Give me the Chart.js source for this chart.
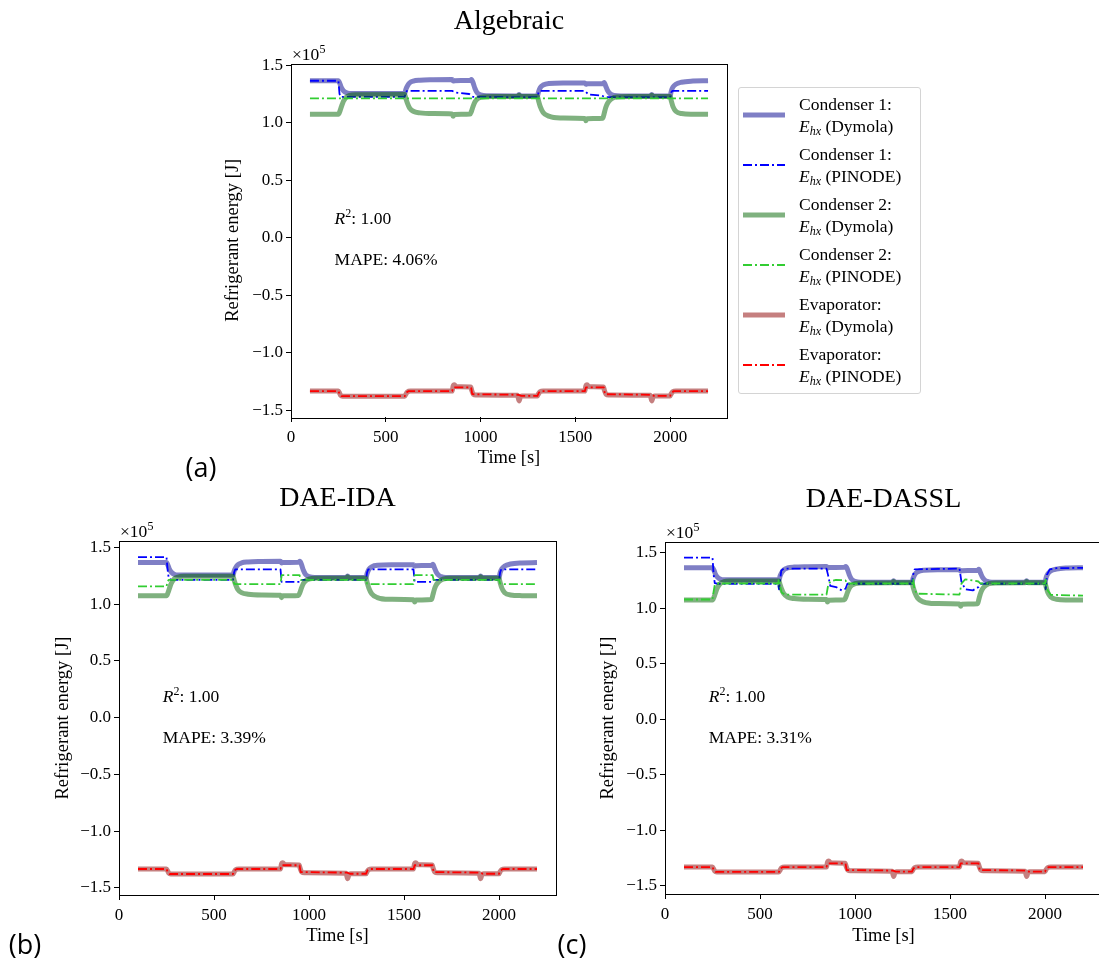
<!DOCTYPE html>
<html>
<head>
<meta charset="utf-8">
<script src="https://cdn.jsdelivr.net/npm/chart.js@4.4.1/dist/chart.umd.min.js"></script>
<style>
  body { margin: 0; width: 1099px; height: 964px; background: #fff; position: relative; overflow: hidden;
         font-family: 'Liberation Serif', serif; color: #000; }
  canvas { position: absolute; }
  .txt { position: absolute; white-space: nowrap; line-height: 1; }
  .mid { transform: translate(-50%, -50%); }
  .left { transform: translateY(-50%); }
  .title { font-size: 28px; }
  .tag { font-family: 'Open Sans', sans-serif; font-size: 27px; }
  .note { font-size: 17.5px; }
  .note sup { font-size: 12px; vertical-align: 7px; }
  .offset { font-size: 17.5px; }
  .offset sup { font-size: 12px; vertical-align: 7px; }
  .legend { position: absolute; left: 738px; top: 87px; width: 181px; height: 305px; border: 1px solid #d4d4d4;
            border-radius: 3px; background: rgba(255,255,255,0.8); }
  .legend .row { position: absolute; left: 0; font-size: 17.5px; line-height: 22px; }
  .legend svg { position: absolute; left: 4px; }
  .legend .lab { position: absolute; left: 60px; white-space: nowrap; }
  .legend sub { font-size: 12px; vertical-align: -3px; }
</style>
</head>
<body>
<canvas id="chartA" width="540" height="460" style="left:200px; top:20px"></canvas>
<canvas id="chartB" width="540" height="460" style="left:28px; top:500px"></canvas>
<canvas id="chartC" width="540" height="460" style="left:574px; top:500px"></canvas>

<script>
const TIME_TICKS = [0, 500, 1000, 1500, 2000];
const ENERGY_TICKS = [-1.5, -1.0, -0.5, 0.0, 0.5, 1.0, 1.5];
const TIME_RANGE = [0, 2300];

// Dymola reference, [time s, energy x1e5 J]
const dymolaCond1 = [[100,1.365],[250,1.365],[258,1.34],[266,1.305],[276,1.28],[290,1.262],[310,1.255],[600,1.255],
  [606,1.29],[614,1.32],[625,1.345],[645,1.362],[680,1.37],[750,1.374],[850,1.376],[856,1.362],[862,1.366],[945,1.368],
  [952,1.376],[960,1.35],[970,1.3],[982,1.26],[1000,1.242],[1030,1.234],[1195,1.233],[1203,1.246],[1212,1.233],[1300,1.233],
  [1306,1.27],[1315,1.305],[1330,1.328],[1360,1.341],[1450,1.345],[1550,1.346],[1556,1.334],[1562,1.338],[1645,1.34],
  [1652,1.35],[1660,1.32],[1670,1.28],[1685,1.25],[1705,1.237],[1740,1.233],[1895,1.233],[1903,1.246],[1912,1.233],
  [2000,1.233],[2006,1.275],[2015,1.31],[2030,1.335],[2060,1.352],[2120,1.362],[2200,1.365]];
const dymolaCond2 = [[100,1.073],[250,1.073],[258,1.1],[266,1.14],[276,1.185],[290,1.22],[310,1.238],[340,1.244],[600,1.245],
  [606,1.21],[614,1.17],[625,1.13],[645,1.1],[680,1.086],[750,1.08],[850,1.077],[855,1.056],[862,1.072],[945,1.076],
  [952,1.1],[960,1.14],[970,1.18],[982,1.205],[1000,1.22],[1030,1.227],[1195,1.228],[1203,1.24],[1212,1.228],[1300,1.228],
  [1306,1.19],[1315,1.14],[1330,1.09],[1360,1.057],[1420,1.042],[1550,1.037],[1556,1.018],[1562,1.035],[1645,1.04],
  [1652,1.08],[1660,1.13],[1670,1.17],[1685,1.2],[1705,1.22],[1740,1.227],[1895,1.228],[1903,1.24],[1912,1.228],
  [2000,1.228],[2006,1.19],[2015,1.14],[2030,1.1],[2060,1.08],[2120,1.074],[2200,1.073]];
const dymolaEvap = [[100,-1.333],[250,-1.333],[256,-1.35],[262,-1.37],[272,-1.377],[600,-1.377],[606,-1.36],[614,-1.34],
  [630,-1.333],[850,-1.333],[855,-1.29],[862,-1.278],[872,-1.295],[948,-1.298],[954,-1.33],[962,-1.36],[975,-1.366],
  [1195,-1.37],[1203,-1.418],[1210,-1.385],[1218,-1.375],[1300,-1.375],[1306,-1.355],[1314,-1.338],[1330,-1.333],
  [1550,-1.333],[1555,-1.29],[1562,-1.278],[1572,-1.295],[1648,-1.298],[1654,-1.33],[1662,-1.36],[1675,-1.366],
  [1895,-1.37],[1903,-1.418],[1910,-1.385],[1918,-1.375],[2000,-1.375],[2006,-1.355],[2014,-1.338],[2030,-1.333],[2200,-1.333]];

// PINODE evaporator prediction (same in every run)
const pinodeEvap = [[100,-1.333],[250,-1.333],[258,-1.365],[266,-1.377],[600,-1.377],[608,-1.345],[620,-1.333],[850,-1.333],
  [856,-1.3],[950,-1.3],[956,-1.36],[1200,-1.365],[1215,-1.375],[1300,-1.375],[1308,-1.345],[1320,-1.333],[1550,-1.333],
  [1556,-1.3],[1650,-1.3],[1656,-1.36],[1900,-1.365],[1915,-1.375],[2000,-1.375],[2008,-1.345],[2020,-1.333],[2200,-1.333]];

// PINODE, algebraic solve
const algCond1 = [[100,1.365],[250,1.365],[256,1.25],[262,1.225],[600,1.225],[606,1.265],[612,1.277],[850,1.277],[870,1.262],
  [940,1.25],[960,1.225],[1300,1.222],[1306,1.265],[1312,1.277],[1550,1.277],[1570,1.245],[1640,1.235],[1660,1.222],
  [2000,1.222],[2006,1.265],[2012,1.277],[2200,1.277]];
const algCond2 = [[100,1.211],[2200,1.211]];

// PINODE, DAE-IDA
const idaCond1 = [[100,1.413],[250,1.413],[256,1.3],[262,1.225],[275,1.213],[600,1.213],[606,1.28],[612,1.306],[850,1.306],
  [856,1.195],[950,1.195],[956,1.213],[1300,1.213],[1306,1.28],[1312,1.306],[1550,1.306],[1556,1.195],[1650,1.195],
  [1656,1.213],[2000,1.213],[2006,1.28],[2012,1.306],[2200,1.306]];
const idaCond2 = [[100,1.155],[250,1.155],[256,1.2],[262,1.213],[600,1.213],[606,1.18],[612,1.175],[850,1.175],[856,1.255],
  [950,1.255],[956,1.213],[1300,1.213],[1306,1.18],[1312,1.175],[1550,1.175],[1556,1.255],[1650,1.255],[1656,1.213],
  [2000,1.213],[2006,1.18],[2012,1.175],[2200,1.175]];

// PINODE, DAE-DASSL
const dasslCond1 = [[100,1.455],[250,1.455],[256,1.3],[262,1.225],[275,1.22],[595,1.22],[600,1.17],[606,1.25],[612,1.34],
  [625,1.356],[850,1.356],[858,1.3],[870,1.2],[900,1.19],[930,1.16],[950,1.175],[960,1.22],[1300,1.22],[1306,1.3],
  [1314,1.35],[1550,1.356],[1560,1.24],[1580,1.17],[1620,1.16],[1650,1.19],[1660,1.22],[2000,1.22],[2004,1.17],
  [2010,1.3],[2025,1.35],[2060,1.36],[2200,1.363]];
const dasslCond2 = [[100,1.078],[250,1.078],[256,1.15],[262,1.21],[275,1.222],[595,1.222],[600,1.26],[606,1.2],[614,1.14],
  [630,1.122],[850,1.122],[858,1.2],[870,1.24],[900,1.255],[950,1.25],[960,1.222],[1300,1.222],[1306,1.26],[1312,1.18],
  [1325,1.13],[1550,1.122],[1560,1.22],[1580,1.26],[1620,1.25],[1650,1.24],[1660,1.222],[2000,1.222],[2004,1.26],
  [2010,1.17],[2030,1.12],[2200,1.113]];

const PANEL_TITLES = ['Algebraic', 'DAE-IDA', 'DAE-DASSL'];
const PANEL_TAGS = ['(a)', '(b)', '(c)'];
const R2_SCORES = ['1.00', '1.00', '1.00'];
const MAPE_SCORES = ['4.06%', '3.39%', '3.31%'];
const ENERGY_RANGES = [[-1.558, 1.515], [-1.562, 1.555], [-1.576, 1.596]];

const SERIES_NAMES = ['Condenser 1:', 'Condenser 1:', 'Condenser 2:', 'Condenser 2:', 'Evaporator:', 'Evaporator:'];
const SERIES_SOURCES = ['Dymola', 'PINODE', 'Dymola', 'PINODE', 'Dymola', 'PINODE'];
const SERIES_COLORS = ['rgba(0,0,139,0.5)', '#0000ff', 'rgba(0,100,0,0.5)', '#32cd32', 'rgba(139,0,0,0.5)', '#ff0000'];
const DASH_DOT = [9, 3, 2, 3];

// canvas geometry: y axis width, x axis height, padding, title paddings
const LAYOUTS = [
  { el: 'chartA', left: 200, top: 20, yw: 91, xh: 63, padTop: 43.5, padRight: 13, yTitlePad: 22.5, xTitlePad: 10.5 },
  { el: 'chartB', left: 28, top: 500, yw: 91, xh: 65, padTop: 41, padRight: 12, yTitlePad: 24.5, xTitlePad: 12.5 },
  { el: 'chartC', left: 574, top: 500, yw: 91, xh: 66, padTop: 42, padRight: 12, yTitlePad: 23.5, xTitlePad: 12.5 },
];

const frameBox = {
  id: 'frameBox',
  afterDraw(chart) {
    const { ctx, chartArea: a } = chart;
    ctx.save();
    ctx.strokeStyle = '#000';
    ctx.lineWidth = 1;
    ctx.strokeRect(Math.round(a.left) + 0.5, Math.round(a.top) + 0.5, Math.round(a.right - a.left), Math.round(a.bottom - a.top));
    ctx.restore();
  }
};

const toPoints = (pairs) => pairs.map(([x, y]) => ({ x, y }));
const fmtEnergy = (v) => (v < 0 ? '\u2212' : '') + Math.abs(v).toFixed(1);

const makeChart = (i, pinode) => {
  const lay = LAYOUTS[i];
  const [yMin, yMax] = ENERGY_RANGES[i];
  const series = [dymolaCond1, pinode[0], dymolaCond2, pinode[1], dymolaEvap, pinode[2]];
  const datasets = series.map((pts, k) => {
    const dym = SERIES_SOURCES[k] === 'Dymola';
    return {
      data: toPoints(pts),
      borderColor: SERIES_COLORS[k],
      borderWidth: dym ? 5 : 1.8,
      borderDash: dym ? [] : DASH_DOT,
      borderJoinStyle: 'round',
      cubicInterpolationMode: dym ? 'monotone' : 'default',
      tension: 0,
      pointRadius: 0,
      fill: false,
      order: series.length - k,
    };
  });
  const tickFont = { family: 'Liberation Serif', size: 17 };
  const titleFont = { family: 'Liberation Serif', size: 18.5 };
  return new Chart(document.getElementById(lay.el), {
    type: 'line',
    data: { datasets },
    options: {
      responsive: false,
      animation: false,
      devicePixelRatio: 1,
      events: [],
      layout: { padding: { top: lay.padTop, right: lay.padRight, left: 0, bottom: 0 } },
      plugins: { legend: { display: false }, tooltip: { enabled: false } },
      scales: {
        x: {
          type: 'linear', min: TIME_RANGE[0], max: TIME_RANGE[1],
          afterBuildTicks: (s) => { s.ticks = TIME_TICKS.map(v => ({ value: v })); },
          afterFit: (s) => { s.height = lay.xh; },
          ticks: { font: tickFont, color: '#000', padding: 5, maxRotation: 0, autoSkip: false, callback: (v) => String(v) },
          grid: { drawOnChartArea: false, drawTicks: true, tickLength: 5, tickColor: '#000' },
          border: { display: false },
          title: { display: true, text: 'Time [s]', font: titleFont, color: '#000', padding: { top: 0, bottom: lay.xTitlePad } },
        },
        y: {
          type: 'linear', min: yMin, max: yMax,
          afterBuildTicks: (s) => { s.ticks = ENERGY_TICKS.map(v => ({ value: v })); },
          afterFit: (s) => { s.width = lay.yw; },
          ticks: { font: tickFont, color: '#000', padding: 3, autoSkip: false, callback: fmtEnergy },
          grid: { drawOnChartArea: false, drawTicks: true, tickLength: 5, tickColor: '#000' },
          border: { display: false },
          title: { display: true, text: 'Refrigerant energy [J]', font: titleFont, color: '#000', padding: { top: lay.yTitlePad, bottom: 0 } },
        },
      },
    },
    plugins: [frameBox],
  });
};

const addText = (html, x, y, cls) => {
  const d = document.createElement('div');
  d.className = 'txt ' + cls;
  d.style.left = x + 'px';
  d.style.top = y + 'px';
  d.innerHTML = html;
  document.body.appendChild(d);
};

const charts = [
  makeChart(0, [algCond1, algCond2, pinodeEvap]),
  makeChart(1, [idaCond1, idaCond2, pinodeEvap]),
  makeChart(2, [dasslCond1, dasslCond2, pinodeEvap]),
];

const TAG_POS = [[201, 466], [25, 943], [572, 943]];
charts.forEach((c, i) => {
  const lay = LAYOUTS[i];
  const a = c.chartArea;
  const L = lay.left + a.left, T = lay.top + a.top, W = a.right - a.left, H = a.bottom - a.top;
  addText(PANEL_TITLES[i], L + W / 2, T - 44, 'title mid');
  addText('&times;10<sup>5</sup>', L + 1, T - 11, 'offset left');
  addText('<i>R</i><sup>2</sup>: ' + R2_SCORES[i], L + 0.1 * W, T + 0.435 * H, 'note left');
  addText('MAPE: ' + MAPE_SCORES[i], L + 0.1 * W, T + 0.557 * H, 'note left');
  addText(PANEL_TAGS[i], TAG_POS[i][0], TAG_POS[i][1], 'tag mid');
});

// legend beside the algebraic panel
const legend = document.createElement('div');
legend.className = 'legend';
SERIES_NAMES.forEach((name, k) => {
  const dym = SERIES_SOURCES[k] === 'Dymola';
  const row = document.createElement('div');
  row.className = 'row';
  row.style.top = (5 + k * 50) + 'px';
  const dash = dym ? '' : ` stroke-dasharray="${DASH_DOT.join(',')}"`;
  row.innerHTML =
    `<svg width="44" height="10" style="top:17px"><line x1="0" y1="5" x2="42" y2="5" stroke="${SERIES_COLORS[k]}"` +
    ` stroke-width="${dym ? 5 : 1.8}"${dash}/></svg>` +
    `<div class="lab" style="top:0">${name}<br><i>E</i><sub><i>hx</i></sub> (${SERIES_SOURCES[k]})</div>`;
  legend.appendChild(row);
});
document.body.appendChild(legend);
</script>
</body>
</html>
